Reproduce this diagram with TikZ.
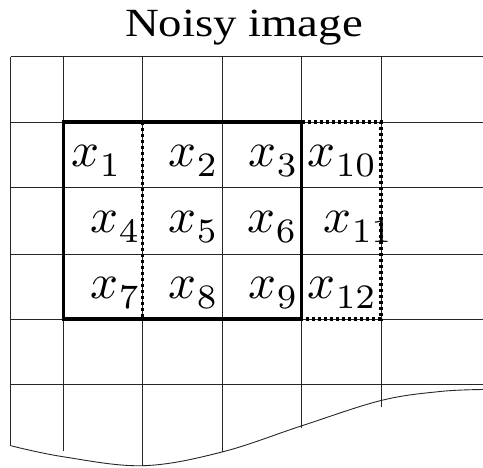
\documentclass[tikz,border=0pt]{standalone}
\usepackage{fontspec}
\setmainfont{Liberation Serif}
% pixel symbol x with a deeply lowered index, enlarged as a whole
\newcommand{\pixlabel}[1]{\scalebox{4.9}{$x$\kern0.15pt\raisebox{-2.1pt}{$\scriptstyle #1$}}}
\begin{document}
\begin{tikzpicture}[x=1pt,y=-1pt,
  gridline/.style={line width=0.9pt,draw=black!85},
  window/.style={line width=3.2pt,draw=black,line cap=rect},
  dotline/.style={line width=3.4pt,draw=black,dash pattern=on 3pt off 3pt},
  pix/.style={anchor=base west,inner sep=0pt},
  title/.style={anchor=base,inner sep=0pt,font=\fontsize{40}{40}\selectfont}]
\useasboundingbox (0,0) rectangle (483,467);

% title
\node[title] (ttl) at (244,36.5) {\scalebox{1.17}[1]{Noisy image}};

% torn lower edge of the image
\draw[gridline] plot[smooth,tension=0.6] coordinates
  {(10.7,445.7) (63,456.7) (143,465.7) (222,452) (302,425.7) (381,400.5) (440,391.5) (483,389.5)};

% left border and grid columns
\draw[gridline] (10.7,56.7) -- (10.7,445.7);
\draw[gridline] (63.3,56.7) -- (63.3,451);
\draw[gridline] (142.7,56.7) -- (142.7,465.7);
\draw[gridline] (222.3,56.7) -- (222.3,452);
\draw[gridline] (301.7,56.7) -- (301.7,428);
\draw[gridline] (381,56.7) -- (381,407);

% grid rows
\foreach \r in {56.7,122,187.3,254,319,384}
  \draw[gridline] (10.7,\r) -- (483,\r);

% 3x3 window and its shifted neighbour column
\draw[dotline] (142.7,122) -- (142.7,319);
\draw[dotline] (301.7,122) -- (381,122) -- (381,319) -- (301.7,319);
\draw[window] (63.3,122) rectangle (301.7,319);

% pixel labels
\node[pix] (p1)  at (71,166)  {\pixlabel{1}};
\node[pix] (p2)  at (168,166) {\pixlabel{2}};
\node[pix] (p3)  at (248,166) {\pixlabel{3}};
\node[pix] (p10) at (307,166) {\pixlabel{10}};
\node[pix] (p4)  at (90,232)  {\pixlabel{4}};
\node[pix] (p5)  at (168,232) {\pixlabel{5}};
\node[pix] (p6)  at (247,232) {\pixlabel{6}};
\node[pix] (p11) at (323,232) {\pixlabel{11}};
\node[pix] (p7)  at (90,298)  {\pixlabel{7}};
\node[pix] (p8)  at (168,298) {\pixlabel{8}};
\node[pix] (p9)  at (248,298) {\pixlabel{9}};
\node[pix] (p12) at (307,298) {\pixlabel{12}};
\end{tikzpicture}
\end{document}
